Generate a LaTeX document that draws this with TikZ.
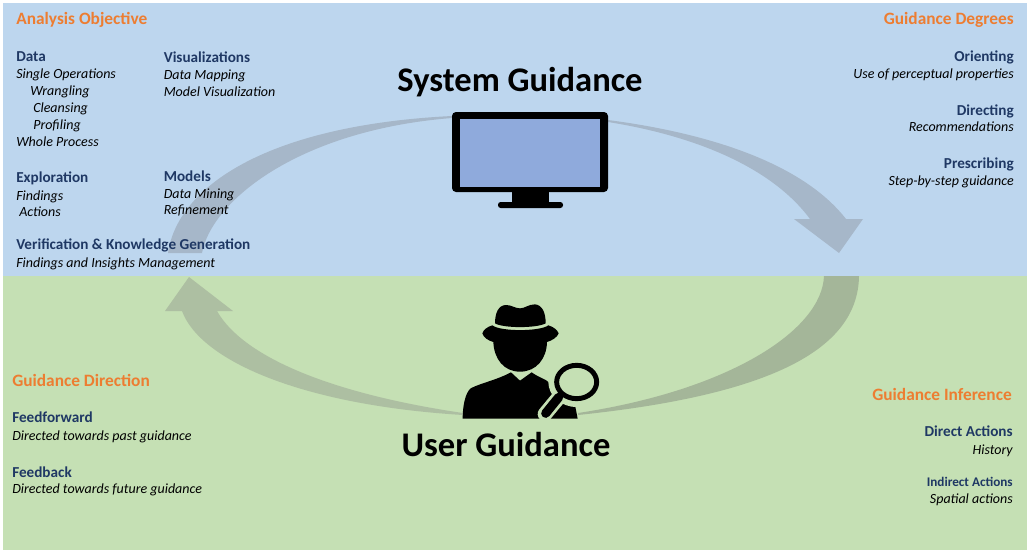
\documentclass[tikz,border=0pt]{standalone}
\usepackage{fontspec}
\setmainfont{Carlito}
\definecolor{panelBlue}{HTML}{BDD6EE}
\definecolor{panelGreen}{HTML}{C5E0B4}
\definecolor{arcBlue}{HTML}{A6B7C9}
\definecolor{arcGreen}{HTML}{A4B699}
\definecolor{arcGreenLight}{HTML}{ADBFA2}
\definecolor{screenBlue}{HTML}{8FAADC}
\definecolor{topicOrange}{HTML}{ED7D31}
\definecolor{headBlue}{HTML}{1F3864}
\tikzset{
  titlelabel/.style={anchor=base,inner sep=0pt,font=\fontsize{25.9}{28}\selectfont\bfseries,text=black},
  topiclabel/.style={inner sep=0pt,yshift=-0.7pt,font=\fontsize{13}{15}\selectfont\bfseries,text=topicOrange},
  headlabel/.style={inner sep=0pt,font=\fontsize{11.4}{13}\selectfont\bfseries,text=headBlue},
  itemlabel/.style={inner sep=0pt,font=\fontsize{10.5}{12}\selectfont\itshape,text=black},
  toleft/.style={anchor=base west},
  toright/.style={anchor=base east}
}

\begin{document}
\begin{tikzpicture}[x=0.75pt,y=-0.75pt]
    \useasboundingbox (0,0) rectangle (1032,554);
    \fill[white] (0,0) rectangle (1032,554);
    \fill[panelBlue] (3,3) rectangle (1027,276);
    \fill[panelGreen] (3,276) rectangle (1027,550);
    % upper arc
    \fill[arcBlue] (168,253) .. controls (178,185) and (270,125) .. (452,116)
      -- (452,118) .. controls (300,130) and (212,200) .. (202,253) -- cycle;
    \fill[arcBlue] (608,120) .. controls (700,132) and (800,160) .. (846,219)
      -- (863,219) -- (839,253) -- (794,219) -- (810,219)
      .. controls (770,165) and (690,135) .. (608,122) -- cycle;
    % lower arcs
    \fill[arcGreen] (859,276) .. controls (858,350) and (770,395) .. (578,415)
      -- (578,413) .. controls (730,390) and (822,330) .. (824,276) -- cycle;
    \fill[arcGreenLight] (189,277) -- (233,311) -- (217,311)
      .. controls (245,360) and (340,395) .. (463,413)
      -- (463,415) .. controls (300,405) and (200,360) .. (182,311)
      -- (165,311) -- cycle;
    % monitor
    \fill[rounded corners=3pt] (452,112) rectangle (608,192);
    \fill[screenBlue] (460,119) rectangle (600,187);
    \fill (512,190) rectangle (549,204);
    \fill[rounded corners=2pt] (498,202) rectangle (563,208);
    % user with magnifier
    \begin{scope}[shift={(400,290)},x=0.25pt,y=-0.25pt]
      \fill (285,100) .. controls (285,70) and (295,45) .. (318,45)
        .. controls (335,45) and (345,55) .. (360,55)
        .. controls (375,55) and (385,43) .. (405,43)
        .. controls (428,45) and (437,70) .. (437,100)
        .. controls (410,115) and (310,115) .. (285,100) -- cycle;
      \fill (247,130) .. controls (250,120) and (262,110) .. (277,106)
        .. controls (300,125) and (420,125) .. (445,106)
        .. controls (460,110) and (472,120) .. (476,130)
        .. controls (472,142) and (455,152) .. (441,156)
        .. controls (440,205) and (410,245) .. (360,245)
        .. controls (310,245) and (282,205) .. (280,156)
        .. controls (265,152) and (250,142) .. (247,130) -- cycle;
      \fill (188,386) .. controls (188,350) and (195,310) .. (212,295)
        .. controls (240,280) and (290,270) .. (333,247)
        -- (360,272) -- (395,247)
        .. controls (415,262) and (440,268) .. (450,280)
        -- (510,335) -- (525,345) -- (533,386) -- cycle;
      \draw[panelGreen,line width=11pt,line cap=round] (478,320) -- (435,372);
      \fill[panelGreen] (530,276) ellipse (85 and 75);
      \draw[line width=3.7pt] (530,276) ellipse (60 and 50);
      \draw[line width=6.8pt,line cap=round] (476,322) -- (437,370);
    \end{scope}
    \begin{scope}[yshift=-0.6pt]
    % titles
    \node[titlelabel] (systemTitle) at (520,91) {System Guidance};
    \node[titlelabel] (userTitle) at (506,456) {User Guidance};
    % analysis objective
    \node[topiclabel,toleft] (objectiveTopic) at (16,23) {Analysis Objective};
    \node[headlabel,toleft] (dataHead) at (16,61) {Data};
    \node[itemlabel,toleft] (singleItem) at (16,78) {Single Operations};
    \node[itemlabel,toleft] (wranglingItem) at (30,95) {Wrangling};
    \node[itemlabel,toleft] (cleansingItem) at (33,112) {Cleansing};
    \node[itemlabel,toleft] (profilingItem) at (33,129) {Profiling};
    \node[itemlabel,toleft] (wholeItem) at (16,146) {Whole Process};
    \node[headlabel,toleft] (visHead) at (163.5,62) {Visualizations};
    \node[itemlabel,toleft] (mappingItem) at (163.5,79) {Data Mapping};
    \node[itemlabel,toleft] (modelVisItem) at (163.5,95.5) {Model Visualization};
    \node[headlabel,toleft] (explorationHead) at (16,182) {Exploration};
    \node[itemlabel,toleft] (findingsItem) at (16,200) {Findings};
    \node[itemlabel,toleft] (actionsItem) at (19,216) {Actions};
    \node[headlabel,toleft] (modelsHead) at (163.5,181) {Models};
    \node[itemlabel,toleft] (miningItem) at (163.5,198) {Data Mining};
    \node[itemlabel,toleft] (refinementItem) at (163.5,214) {Refinement};
    \node[headlabel,toleft] (verificationHead) at (16,249) {Verification \& Knowledge Generation};
    \node[itemlabel,toleft] (insightsItem) at (16,267) {Findings and Insights Management};
    % guidance degrees
    \node[topiclabel,toright] (degreesTopic) at (1014,23) {Guidance Degrees};
    \node[headlabel,toright] (orientingHead) at (1014,61) {Orienting};
    \node[itemlabel,toright] (perceptualItem) at (1014,78) {Use of perceptual properties};
    \node[headlabel,toright] (directingHead) at (1014,115) {Directing};
    \node[itemlabel,toright] (recommendItem) at (1014,131) {Recommendations};
    \node[headlabel,toright] (prescribingHead) at (1014,168) {Prescribing};
    \node[itemlabel,toright] (stepItem) at (1014,185) {Step-by-step guidance};
    % guidance direction
    \node[topiclabel,toleft] (directionTopic) at (12,385) {Guidance Direction};
    \node[headlabel,toleft] (forwardHead) at (12,422) {Feedforward};
    \node[itemlabel,toleft] (pastItem) at (12,440) {Directed towards past guidance};
    \node[headlabel,toleft] (backHead) at (12,477) {Feedback};
    \node[itemlabel,toleft] (futureItem) at (12,493) {Directed towards future guidance};
    % guidance inference
    \node[topiclabel,toright] (inferenceTopic) at (1012,399) {Guidance Inference};
    \node[headlabel,toright] (directHead) at (1013,436) {Direct Actions};
    \node[itemlabel,toright] (historyItem) at (1013,454) {History};
    \node[headlabel,toright,font=\fontsize{9.9}{11}\selectfont\bfseries] (indirectHead) at (1013,486) {Indirect Actions};
    \node[itemlabel,toright] (spatialItem) at (1013,503) {Spatial actions};
    \end{scope}
  \end{tikzpicture}
\end{document}
